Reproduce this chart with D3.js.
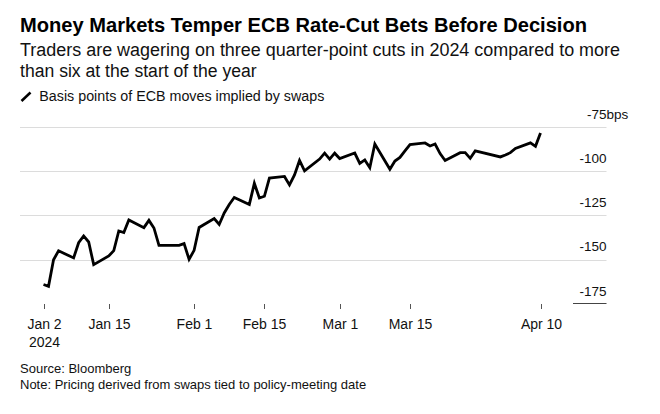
<!DOCTYPE html>
<html><head><meta charset="utf-8">
<script src="https://cdn.jsdelivr.net/npm/d3@7"></script>
<style>
html,body{margin:0;padding:0;background:#fff;}
svg{display:block;font-family:"Liberation Sans",Arial,Helvetica,sans-serif;}
</style></head>
<body><svg id="chart" width="660" height="414"></svg>
<script>
const dates = ["2024-01-02","2024-01-03","2024-01-04","2024-01-05","2024-01-08","2024-01-09","2024-01-10","2024-01-11","2024-01-12","2024-01-15","2024-01-16","2024-01-17","2024-01-18","2024-01-19","2024-01-22","2024-01-23","2024-01-24","2024-01-25","2024-01-26","2024-01-29","2024-01-30","2024-01-31",
"2024-02-01","2024-02-02","2024-02-05","2024-02-06","2024-02-07","2024-02-08","2024-02-09","2024-02-12","2024-02-13","2024-02-14","2024-02-15","2024-02-16","2024-02-19","2024-02-20","2024-02-21","2024-02-22","2024-02-23","2024-02-26","2024-02-27","2024-02-28","2024-02-29",
"2024-03-01","2024-03-04","2024-03-05","2024-03-06","2024-03-07","2024-03-08","2024-03-11","2024-03-12","2024-03-13","2024-03-14","2024-03-15","2024-03-18","2024-03-19","2024-03-20","2024-03-21","2024-03-22","2024-03-25","2024-03-26","2024-03-27","2024-03-28",
"2024-04-02","2024-04-03","2024-04-04","2024-04-05","2024-04-08","2024-04-09","2024-04-10"];
const bps = [-164,-165,-150,-145,-149,-140.4,-136.6,-140,-152.8,-147.9,-144.9,-133.8,-134.7,-127.6,-131.9,-127.8,-132.1,-141.9,-141.9,-141.9,-140.9,-149.8,
-144.7,-131.8,-126.8,-130.1,-123.6,-118.8,-114.9,-118.8,-106.9,-115.2,-114.2,-103.9,-103,-107.8,-102.2,-94,-99.8,-93.2,-89.9,-93.2,-89.9,
-92.9,-89.8,-95.7,-93.7,-98.1,-84.7,-99,-94.3,-92.3,-88.6,-85,-84.1,-85.8,-84.7,-90.1,-94,-89.6,-89.6,-92.8,-88.6,
-92,-90.9,-89.6,-87.2,-84.1,-86,-78.5];
const xTickDates = ["2024-01-02","2024-01-15","2024-02-01","2024-02-15","2024-03-01","2024-03-15","2024-04-10"];
const xTickLabels = ["Jan 2","Jan 15","Feb 1","Feb 15","Mar 1","Mar 15","Apr 10"];
const yTicks = [-75,-100,-125,-150,-175];
const yTickLabels = ["-75","-100","-125","-150","-175"];

const title = "Money Markets Temper ECB Rate-Cut Bets Before Decision";
const subtitle = ["Traders are wagering on three quarter-point cuts in 2024 compared to more","than six at the start of the year"];
const legendLabel = "Basis points of ECB moves implied by swaps";
const notes = ["Source: Bloomberg","Note: Pricing derived from swaps tied to policy-meeting date"];

const parse = d3.utcParse("%Y-%m-%d");
const data = dates.map((d,i)=>({date:parse(d), v:bps[i]}));

const svg = d3.select("#chart");
const x = d3.scaleUtc().domain([parse("2024-01-02"), parse("2024-04-10")]).range([43.5, 540.5]);
const y = d3.scaleLinear().domain([-175,-75]).range([304,126.8]);

function fitText(sel, w){
  const n = sel.node(); const L = n.getComputedTextLength();
  if (Math.abs(L-w) > 1) sel.attr("textLength", w).attr("lengthAdjust","spacingAndGlyphs");
}

// Title
const t = svg.append("text").attr("x",20).attr("y",31.5).attr("font-size",20).attr("font-weight","bold").attr("fill","#000").text(title);
fitText(t, 567);
// Subtitle
subtitle.forEach((s,i)=>{
  const st = svg.append("text").attr("x",20).attr("y",56+i*21.3).attr("font-size",17.6).attr("fill","#111").text(s);
  if(i===0) fitText(st, 600);
});
// Legend
svg.append("line").attr("x1",21.5).attr("y1",101).attr("x2",30.5).attr("y2",92.5).attr("stroke","#000").attr("stroke-width",2.5);
const lg = svg.append("text").attr("x",39.3).attr("y",101).attr("font-size",14).attr("fill","#111").text(legendLabel);
fitText(lg, 285);

// Gridlines (not the bottom value)
const g = svg.append("g");
g.selectAll("line.grid").data(yTicks.filter(v=>v!==-175)).join("line")
  .attr("class","grid").attr("x1",20).attr("x2",606.5)
  .attr("y1",d=>Math.round(y(d))+0.5).attr("y2",d=>Math.round(y(d))+0.5)
  .attr("stroke","#dcdcdc").attr("stroke-width",1);
// baseline marker near bottom label
svg.append("line").attr("x1",573).attr("x2",606.5).attr("y1",Math.round(y(-175))-0.5).attr("y2",Math.round(y(-175))-0.5)
  .attr("stroke","#444").attr("stroke-width",1.2);

// Y labels
const yl = svg.append("g");
yTicks.forEach((v,i)=>{
  const tx = yl.append("text").attr("x",606.5).attr("y",y(v)-8.3).attr("font-size",13.5).attr("fill","#111").attr("text-anchor","end").text(yTickLabels[i]);
  if(i===0){
    tx.attr("text-anchor","start");
    const w = tx.node().getComputedTextLength();
    tx.attr("x",606.5-w);
    tx.append("tspan").text("bps");
  }
});

// X axis ticks & labels
const xg = svg.append("g");
xTickDates.forEach((d,i)=>{
  const px = Math.round(x(parse(d)))+0.5;
  xg.append("line").attr("x1",px).attr("x2",px).attr("y1",304).attr("y2",309).attr("stroke","#555").attr("stroke-width",1);
  xg.append("text").attr("x",px).attr("y",329).attr("font-size",14).attr("fill","#111").attr("text-anchor","middle").text(xTickLabels[i]);
  if(i===0) xg.append("text").attr("x",px).attr("y",347).attr("font-size",14).attr("fill","#111").attr("text-anchor","middle").text("2024");
});

// Line
const line = d3.line().x(d=>x(d.date)).y(d=>y(d.v));
svg.append("path").datum(data).attr("d",line).attr("fill","none").attr("stroke","#000").attr("stroke-width",2.8).attr("stroke-linejoin","miter").attr("stroke-miterlimit",4);

// Notes
notes.forEach((s,i)=>{
  svg.append("text").attr("x",20).attr("y",373+i*16).attr("font-size",13).attr("fill","#111").text(s);
});
</script></body></html>
